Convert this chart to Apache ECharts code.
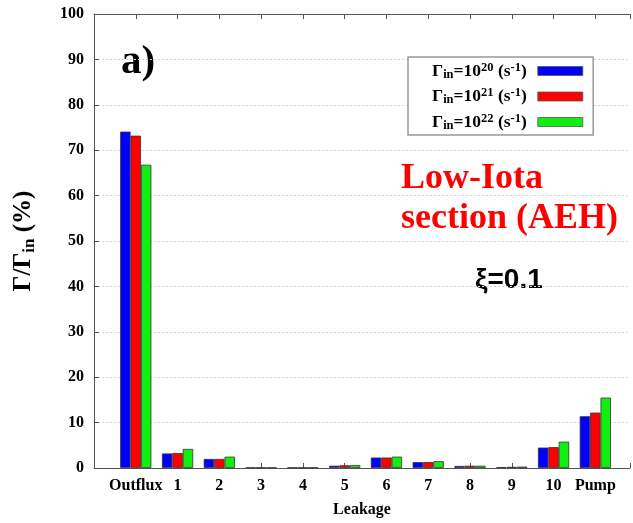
<!DOCTYPE html>
<html>
<head>
<meta charset="utf-8">
<script src="https://cdn.jsdelivr.net/npm/echarts@6/dist/echarts.min.js"></script>
<style>
  html, body { margin: 0; padding: 0; background: #fff; }
  #chart { width: 633px; height: 523px; }
</style>
</head>
<body>
<div id="chart"></div>
<script>
// Particle balance: share of the input flux (%) per exit channel
const categories = ['Outflux', '1', '2', '3', '4', '5', '6', '7', '8', '9', '10', 'Pump'];
const flux1e20 = [74.1, 3.2, 2.0, 0.1, 0.1, 0.5, 2.3, 1.3, 0.45, 0.2, 4.5, 11.4];
const flux1e21 = [73.2, 3.3, 2.0, 0.1, 0.1, 0.6, 2.3, 1.3, 0.5, 0.25, 4.6, 12.2];
const flux1e22 = [66.8, 4.2, 2.5, 0.1, 0.1, 0.65, 2.5, 1.5, 0.5, 0.3, 5.8, 15.5];
const seriesNames = ['1e20', '1e21', '1e22'];
const seriesExponents = ['20', '21', '22'];
const seriesColors = ['#0000ff', '#ff0000', '#11ee11'];
const yTicks = { min: 0, max: 100, interval: 10 };

// x runs over category indices; one empty slot on the left, partial on the right
const xRange = { min: -1, max: 11.83, interval: 1 };
const toPoints = arr => arr.map((v, i) => [i, v]);
const catLabel = v => (Number.isInteger(v) && v >= 0 && v < categories.length) ? categories[v] : '';

const serif = '"Liberation Serif", "DejaVu Serif", serif';
const rich = {
  t:   { fontFamily: serif, fontWeight: 'bold', fontSize: 17.5, color: '#000', lineHeight: 20, verticalAlign: 'middle' },
  sub: { fontFamily: serif, fontWeight: 'bold', fontSize: 12.5, color: '#000', lineHeight: 20, verticalAlign: 'bottom', padding: [6, 0, 0, 0] },
  sup: { fontFamily: serif, fontWeight: 'bold', fontSize: 12.5, color: '#000', lineHeight: 20, verticalAlign: 'top', padding: [0, 0, 6, 0] }
};

const chart = echarts.init(document.getElementById('chart'), null, { renderer: 'canvas' });

const barSeries = [flux1e20, flux1e21, flux1e22].map((vals, i) => ({
  name: seriesNames[i],
  type: 'bar',
  data: toPoints(vals),
  barWidth: 10.4,
  barGap: '0%',
  itemStyle: { color: seriesColors[i], borderColor: '#333', borderWidth: 0.8 },
  animation: false
}));

const xCommon = {
  type: 'value',
  min: xRange.min,
  max: xRange.max,
  interval: xRange.interval,
  splitLine: { show: false },
  axisTick: { show: true, inside: true, length: 5, lineStyle: { color: '#555' } }
};

chart.setOption({
  animation: false,
  backgroundColor: '#fff',
  grid: { left: 94, top: 14, right: 0, bottom: 54 },
  legend: {
    orient: 'vertical',
    left: 408,
    top: 57,
    align: 'right',
    itemWidth: 45,
    itemHeight: 9,
    itemGap: 5.5,
    padding: [4, 10, 3, 24],
    borderColor: '#999',
    borderWidth: 1.5,
    backgroundColor: '#fff',
    icon: 'rect',
    itemStyle: { borderColor: '#555', borderWidth: 0.8 },
    formatter: name => {
      const e = seriesExponents[seriesNames.indexOf(name)];
      return '{t|Γ}{sub|in}{t|=10}{sup|' + e + '}{t| (s}{sup|-1}{t|)}';
    },
    textStyle: { rich: rich, padding: [0, 6, 0, 0] },
    data: seriesNames
  },
  xAxis: [Object.assign({}, xCommon, {
    position: 'bottom',
    axisLine: { show: true, onZero: false, lineStyle: { color: '#555', width: 1 } },
    axisLabel: {
      margin: 10, color: '#000', fontFamily: serif, fontWeight: 'bold', fontSize: 16,
      showMinLabel: true, showMaxLabel: true, formatter: catLabel
    },
    name: 'Leakage',
    nameLocation: 'middle',
    nameGap: 34,
    nameTextStyle: { color: '#000', fontFamily: serif, fontWeight: 'bold', fontSize: 16 }
  }), Object.assign({}, xCommon, {
    position: 'top',
    axisLine: { show: true, onZero: false, lineStyle: { color: '#555', width: 1 } },
    axisLabel: { show: false }
  })],
  yAxis: {
    type: 'value',
    position: 'left',
    min: yTicks.min,
    max: yTicks.max,
    interval: yTicks.interval,
    axisLine: { show: true, onZero: false, lineStyle: { color: '#555', width: 1 } },
    axisTick: { show: true, inside: true, length: 5, lineStyle: { color: '#555' } },
    axisLabel: { margin: 10, color: '#000', fontFamily: serif, fontWeight: 'bold', fontSize: 16 },
    splitLine: { show: true, lineStyle: { color: '#d4d4d4', type: [2, 2], width: 1 } }
  },
  graphic: [
    { type: 'text', left: 121, top: 42, style: { text: 'a)', font: 'bold 41px ' + serif, fill: '#000' } },
    { type: 'text', left: 401, top: 161, style: { text: 'Low-Iota', font: 'bold 36px ' + serif, fill: '#ff0000' } },
    { type: 'text', left: 401, top: 201, style: { text: 'section (AEH)', font: 'bold 36px ' + serif, fill: '#ff0000' } },
    { type: 'text', left: 475, top: 266, style: { text: 'ξ=0.1', font: 'bold 28px "Liberation Sans", Arial, sans-serif', fill: '#000' } },
    {
      type: 'text',
      x: 24, y: 241,
      rotation: Math.PI / 2,
      style: {
        text: '{t|Γ/Γ}{s|in}{t| (%)}',
        align: 'center',
        verticalAlign: 'middle',
        rich: {
          t: { fontFamily: serif, fontWeight: 'bold', fontSize: 25, fill: '#000', lineHeight: 28, verticalAlign: 'middle' },
          s: { fontFamily: serif, fontWeight: 'bold', fontSize: 17, fill: '#000', lineHeight: 28, verticalAlign: 'bottom', padding: [10, 0, 0, 0] }
        }
      }
    }
  ],
  series: barSeries
});
</script>
</body>
</html>
